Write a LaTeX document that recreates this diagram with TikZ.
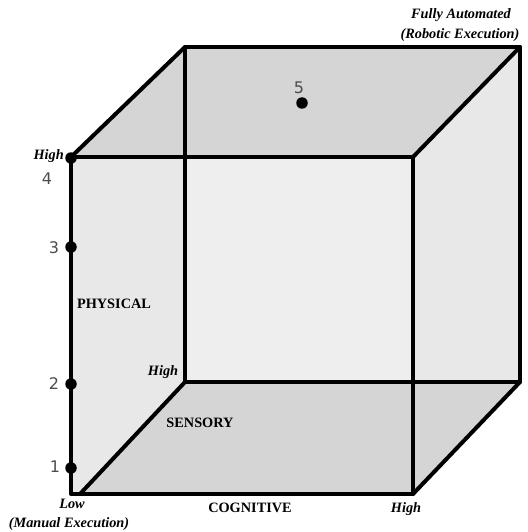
\documentclass[tikz,border=0pt]{standalone}
\usepackage{fontspec}
\setmainfont{Liberation Serif}
\newfontfamily\numfont{DejaVu Sans}
\begin{document}
\begin{tikzpicture}[x=1pt,y=-1pt,
  edge/.style={line width=4pt,line cap=round,line join=round},
  lbl/.style={font=\fontsize{14.3}{16}\selectfont\bfseries,inner sep=0pt},
  ilbl/.style={font=\fontsize{14.3}{16}\selectfont\bfseries\itshape,inner sep=0pt},
  num/.style={font=\fontsize{16}{18}\selectfont\numfont,text=black!70,inner sep=0pt},
  dot/.style={circle,fill=black,inner sep=0pt,minimum size=11.5pt}]
\useasboundingbox (0,0) rectangle (527,532);
% corners
\coordinate (FTL) at (71,157);
\coordinate (FTR) at (413,157);
\coordinate (FBR) at (413,494);
\coordinate (FBL) at (71,494);
\coordinate (FBLd) at (80,494);
\coordinate (BTL) at (185,47);
\coordinate (BTR) at (520,47);
\coordinate (BBR) at (520,382);
\coordinate (BBL) at (185,382);
% faces
\fill[gray!13] (BTL) -- (BTR) -- (BBR) -- (BBL) -- cycle;
\fill[gray!18] (FTL) -- (BTL) -- (BBL) -- (FBLd) -- (FBL) -- cycle;
\fill[gray!18] (FTR) -- (BTR) -- (BBR) -- (FBR) -- cycle;
\fill[gray!33] (FTL) -- (BTL) -- (BTR) -- (FTR) -- cycle;
\fill[gray!33] (FBLd) -- (BBL) -- (BBR) -- (FBR) -- cycle;
% edges
\draw[edge] (BTL) -- (BTR) -- (BBR) -- (BBL) -- cycle;
\draw[edge] (FTL) -- (FTR) -- (FBR) -- (FBL) -- cycle;
\draw[edge] (FTL) -- (BTL);
\draw[edge] (FTR) -- (BTR);
\draw[edge] (FBR) -- (BBR);
\draw[edge] (FBLd) -- (BBL);
% dots
\node[dot] (d4) at (71,158) {};
\node[dot] (d3) at (71,247) {};
\node[dot] (d2) at (71,384) {};
\node[dot] (d1) at (71,468) {};
\node[dot] (d5) at (302,103) {};
% numbers
\node[num] (n4) at (47,179) {4};
\node[num] (n3) at (54,248) {3};
\node[num] (n2) at (54,384) {2};
\node[num] (n1) at (55,467) {1};
\node[num] (n5) at (299,88) {5};
% labels
\node[ilbl,anchor=east] (hightl) at (64,156) {High};
\node[ilbl] (highbl) at (163,372) {High};
\node[ilbl] (low) at (72,504) {Low};
\node[ilbl] (manual) at (69,524) {(Manual Execution)};
\node[ilbl] (highbr) at (406,509) {High};
\node[ilbl] (fully) at (461,15) {Fully Automated};
\node[ilbl] (robotic) at (460,35) {(Robotic Execution)};
\node[lbl] (cog) at (250,508) {COGNITIVE};
\node[lbl] (sens) at (200,423) {SENSORY};
\node[lbl] (phys) at (114,304) {PHYSICAL};
\end{tikzpicture}
\end{document}
